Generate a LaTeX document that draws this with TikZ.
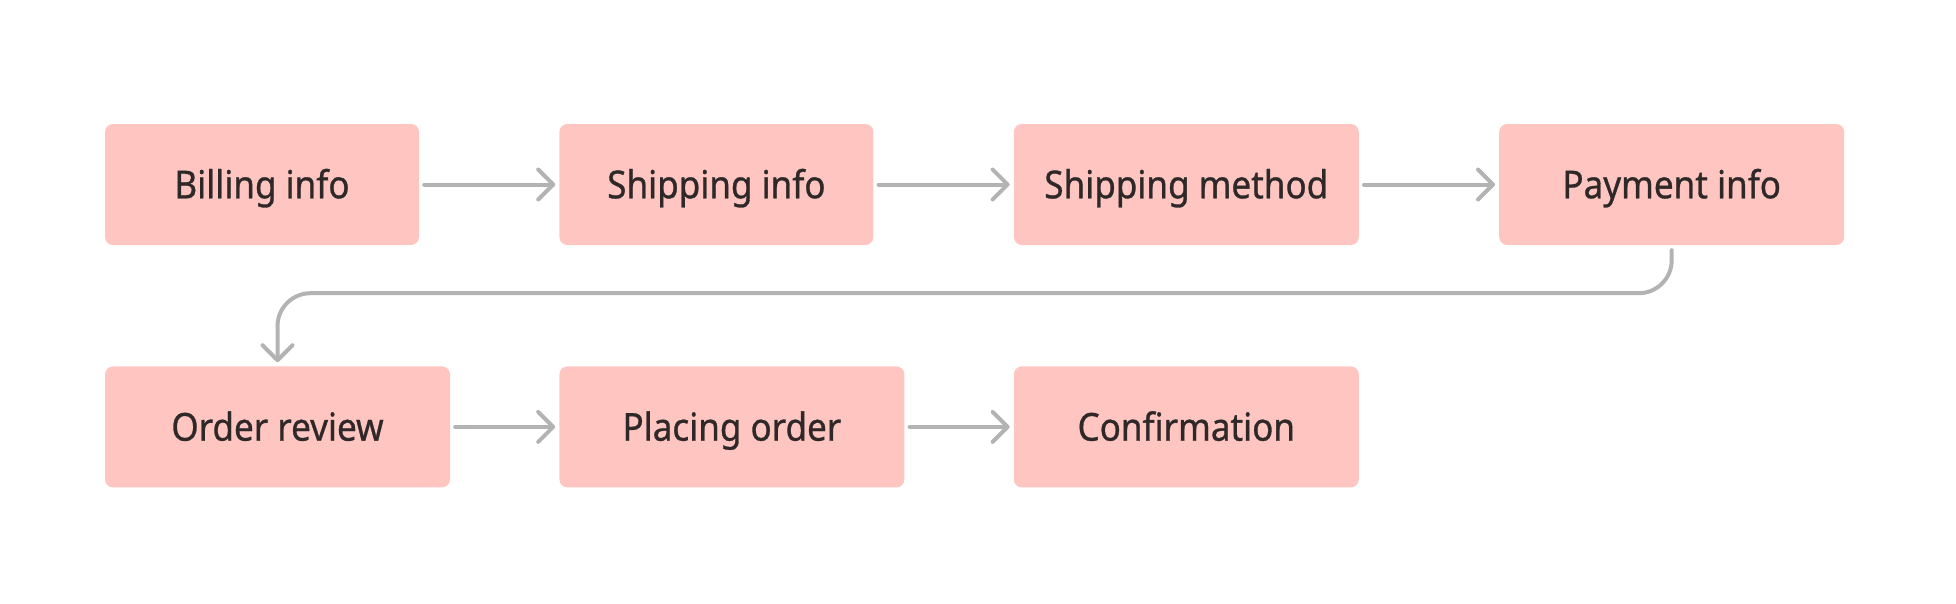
\documentclass[tikz,border=0pt]{standalone}
\usepackage{fontspec}
\setmainfont{Noto Sans}[FakeStretch=0.91,FakeBold=0.8]
\usetikzlibrary{arrows.meta,positioning}

\definecolor{boxpink}{HTML}{FFC6C1}
\definecolor{textdark}{HTML}{2E2828}
\definecolor{arrowgray}{HTML}{B3B3B3}

\begin{document}
\begin{tikzpicture}[x=1pt,y=1pt,node distance=140pt,
		step box/.style={rectangle,rounded corners=8pt,fill=boxpink,text=textdark,
			minimum width=314pt,minimum height=121pt,inner sep=0pt,
			text height=27.5pt,text depth=0pt,font=\fontsize{38.5pt}{46pt}\selectfont},
		wide/.style={minimum width=345pt},
		flow/.style={-{Straight Barb[length=15pt,width=30pt,round]},line width=4pt,
			draw=arrowgray,line cap=round,shorten >=4pt,shorten <=5pt}]
		\useasboundingbox (0,0) rectangle (1956,-603);
		
		\node[step box] (1) at (262,-184.5) {Billing info};
		\node[step box] (2) [right=of 1] {Shipping info};
		\node[step box, wide] (3) [right=of 2] {Shipping method};
		\node[step box, wide] (4) [right=of 3] {Payment info};
		\node[step box, wide] (5) [below=121pt of 1.south west, anchor=north west] {Order review};
		\node[step box, wide] (6) [right=109pt of 5] {Placing order};
		\node[step box, wide] (7) [right=109pt of 6] {Confirmation};
		\coordinate (bend) at ([yshift=-48pt]4.south);
		
		\path[flow]
		(1) edge (2)
		(2) edge (3)
		(3) edge (4)
		(5) edge (6)
		(6) edge (7);
		\draw[flow, rounded corners=33pt] (4.south) -- (bend) -| (5.north);
\end{tikzpicture}
\end{document}
